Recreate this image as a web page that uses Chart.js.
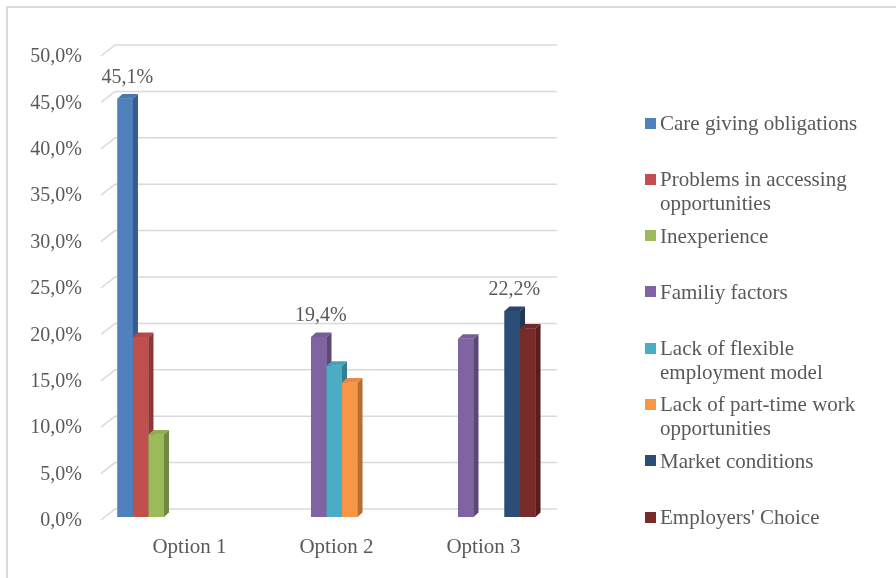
<!DOCTYPE html>
<html>
<head>
    <meta charset="UTF-8" />
    <title>Options</title>
    <style>
        body { margin: 0; background: #fff; }
        .marco { position: relative; width: 896px; height: 578px; overflow: hidden; }
        .borde { position: absolute; left: 6px; top: 6px; width: 900px; height: 580px;
                 border-left: 2px solid #dadada; border-top: 2px solid #dadada; }
        canvas { position: absolute; left: 0; top: 0; }
        .leyenda { position: absolute; left: 645px; top: 111px; font-family: 'Liberation Serif', serif;
                   font-size: 21px; line-height: 24px; color: #595959; }
        .item { height: 56.3px; display: flex; align-items: flex-start; }
        .cuadro { width: 11px; height: 11px; margin-top: 6.5px; margin-right: 4px; flex: none; }
        .texto { width: 215px; }
    </style>
</head>
<body>
    <div class="marco">
        <div class="borde"></div>
        <canvas id="grafico" width="896" height="578"></canvas>
        <div class="leyenda" id="leyenda"></div>
    </div>
    <script src="https://cdn.jsdelivr.net/npm/chart.js"></script>
    <script>
        const categorias = ['Option 1', 'Option 2', 'Option 3'];

        const careGiving = [45.1, null, null];
        const accessProblems = [19.4, null, null];
        const inexperience = [8.9, null, null];
        const familyFactors = [null, 19.4, 19.2];
        const flexibleModel = [null, 16.3, null];
        const partTimeWork = [null, 14.5, null];
        const marketConditions = [null, null, 22.2];
        const employersChoice = [null, null, 20.3];

        const nombres = ['Care giving obligations', 'Problems in accessing opportunities', 'Inexperience',
            'Familiy factors', 'Lack of flexible employment model', 'Lack of part-time work opportunities',
            'Market conditions', "Employers' Choice"];
        const valores = [careGiving, accessProblems, inexperience, familyFactors,
            flexibleModel, partTimeWork, marketConditions, employersChoice];

        // solo estas barras llevan etiqueta: [serie, categoria]
        const etiquetas = [[0, 0], [3, 1], [6, 2]];

        const ticksY = [0, 5, 10, 15, 20, 25, 30, 35, 40, 45, 50];

        const frente = ['#4f81bd', '#c0504d', '#9bbb59', '#8064a2', '#4bacc6', '#f79646', '#2c4d75', '#772c2a'];
        const lado = ['#385d8a', '#8c3836', '#71893f', '#5c4776', '#357d91', '#b66d31', '#1f3754', '#561f1e'];
        const arriba = ['#4a78b0', '#b34a47', '#90ae52', '#775d97', '#46a0b8', '#e68b41', '#29476d', '#6f2927'];

        const fmt = v => v.toFixed(1).replace('.', ',') + '%';
        const gris = '#595959';
        const fuente = "'Liberation Serif', serif";
        const DX = 5, DY = 4.5;

        // paredes del grafico 3D: lineas de division con su tramo inclinado
        const paredes = {
            id: 'paredes',
            beforeDatasetsDraw(chart) {
                const ctx = chart.ctx;
                const y = chart.scales.y;
                const a = chart.chartArea;
                ctx.save();
                ctx.strokeStyle = '#d9d9d9';
                ctx.lineWidth = 1.5;
                y.ticks.forEach(t => {
                    const py = y.getPixelForValue(t.value);
                    ctx.beginPath();
                    ctx.moveTo(a.left - 5, py + 3);
                    ctx.lineTo(a.left + 9, py - 8);
                    ctx.lineTo(a.right + 10, py - 8);
                    ctx.stroke();
                });
                ctx.restore();
            }
        };

        // caras lateral y superior de cada barra
        const barras3d = {
            id: 'barras3d',
            afterDatasetsDraw(chart) {
                const ctx = chart.ctx;
                ctx.save();
                chart.data.datasets.forEach((ds, i) => {
                    chart.getDatasetMeta(i).data.forEach((bar, j) => {
                        if (ds.data[j] == null) return;
                        const izq = bar.x - bar.width / 2, der = bar.x + bar.width / 2;
                        const top = bar.y, base = bar.base;
                        ctx.fillStyle = frente[i];
                        ctx.fillRect(izq, top, der - izq, base - top);
                        ctx.fillStyle = lado[i];
                        ctx.beginPath();
                        ctx.moveTo(der, top);
                        ctx.lineTo(der + DX, top - DY);
                        ctx.lineTo(der + DX, base - DY);
                        ctx.lineTo(der, base);
                        ctx.closePath();
                        ctx.fill();
                        ctx.fillStyle = arriba[i];
                        ctx.beginPath();
                        ctx.moveTo(izq, top);
                        ctx.lineTo(izq + DX, top - DY);
                        ctx.lineTo(der + DX, top - DY);
                        ctx.lineTo(der, top);
                        ctx.closePath();
                        ctx.fill();
                    });
                });
                ctx.fillStyle = gris;
                ctx.font = '20px ' + fuente;
                ctx.textAlign = 'center';
                ctx.textBaseline = 'middle';
                etiquetas.forEach(([i, j]) => {
                    const bar = chart.getDatasetMeta(i).data[j];
                    ctx.fillText(fmt(valores[i][j]), bar.x + 2, bar.y - 21);
                });
                ctx.restore();
            }
        };

        const grafico = new Chart(document.getElementById('grafico'), {
            type: 'bar',
            data: {
                labels: categorias,
                datasets: valores.map((v, i) => ({
                    label: nombres[i],
                    data: v,
                    backgroundColor: frente[i],
                    borderWidth: 0,
                    categoryPercentage: 0.844,
                    barPercentage: 1
                }))
            },
            options: {
                responsive: false,
                animation: false,
                layout: { padding: { top: 53, right: 349, bottom: 16, left: 0 } },
                plugins: { legend: { display: false }, tooltip: { enabled: false } },
                scales: {
                    x: {
                        grid: { display: false },
                        border: { display: false },
                        ticks: { color: gris, font: { family: fuente, size: 21 }, padding: 10, labelOffset: 10 },
                        afterFit(s) { s.height = 45; }
                    },
                    y: {
                        min: 0,
                        max: 50,
                        afterBuildTicks(s) { s.ticks = ticksY.map(v => ({ value: v })); },
                        grid: { display: false, drawTicks: false },
                        border: { display: false },
                        ticks: { color: gris, font: { family: fuente, size: 20 }, padding: 24, labelOffset: 4,
                                 callback: v => fmt(v) },
                        afterFit(s) { s.width = 106; }
                    }
                }
            },
            plugins: [paredes, barras3d]
        });

        // leyenda en html, con el texto que se parte en dos lineas
        const leyenda = document.getElementById('leyenda');
        nombres.forEach((n, i) => {
            const item = document.createElement('div');
            item.className = 'item';
            item.innerHTML = '<span class="cuadro" style="background:' + frente[i] + '"></span><span class="texto">' + n + '</span>';
            leyenda.appendChild(item);
        });
    </script>
</body>
</html>
